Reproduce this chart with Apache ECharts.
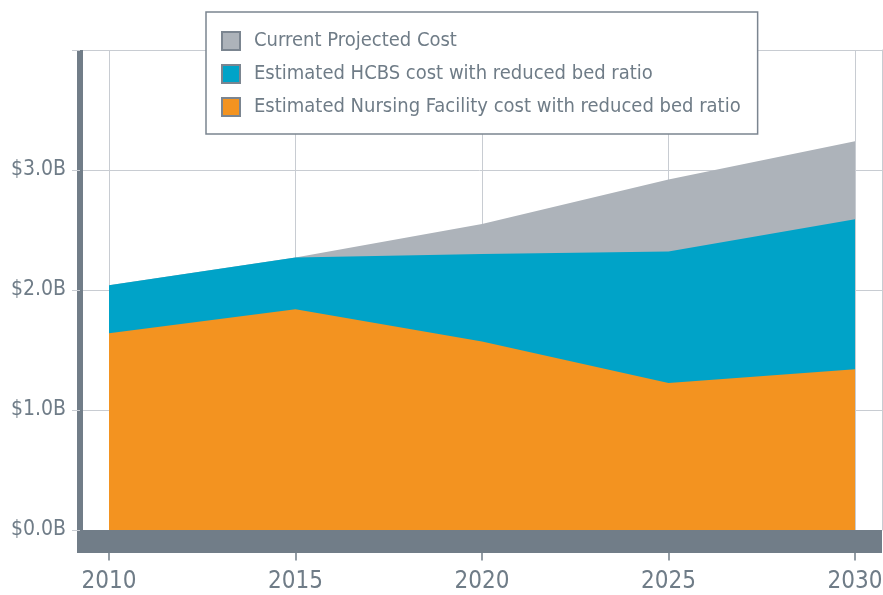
<!DOCTYPE html>
<html>
<head>
<meta charset="utf-8">
<script src="https://cdn.jsdelivr.net/npm/echarts@6/dist/echarts.min.js"></script>
<style>
  html, body { margin: 0; padding: 0; background: #fff; }
  #chart { width: 883px; height: 595px; }
</style>
</head>
<body>
<div id="chart"></div>
<script>
// data (billions of dollars)
var years = [2010, 2015, 2020, 2025, 2030];
var projectedCost = [2.04, 2.27, 2.55, 2.92, 3.24];
var hcbsTotal = [2.04, 2.27, 2.30, 2.32, 2.59];
var nursingCost = [1.64, 1.84, 1.57, 1.225, 1.34];
var seriesNames = [
	"Current Projected Cost",
	"Estimated HCBS cost with reduced bed ratio",
	"Estimated Nursing Facility cost with reduced bed ratio"
];
var colorList = ["#adb3ba", "#00a3c8", "#f39320"];

var axisDark = "#717d88";
var gridGray = "#c8ccd2";
var textGray = "#6f7c87";
var fontName = "'Liberation Sans Narrow', 'DejaVu Sans Condensed', sans-serif";

function pairs(values) {
	var out = [];
	for (var i = 0; i < years.length; i++) {
		out.push([years[i], values[i]]);
	}
	return out;
}

var myChart = echarts.init(document.getElementById("chart"));
var seriesData = [projectedCost, hcbsTotal, nursingCost];
var series = [];
for (var i = 0; i < seriesNames.length; i++) {
	series.push({
		name: seriesNames[i],
		type: "line",
		data: pairs(seriesData[i]),
		symbol: "none",
		lineStyle: { width: 0 },
		itemStyle: { color: colorList[i], borderColor: "#7b8590", borderWidth: 1 },
		areaStyle: { color: colorList[i], opacity: 1 },
		z: 2 + i
	});
}

var option = {
	animation: false,
	textStyle: { fontFamily: fontName },
	grid: { left: 77, right: 1, top: 50, bottom: 65, outerBoundsMode: "none" },
	legend: {
		orient: "vertical",
		left: 206,
		top: 12,
		padding: [19, 17, 17, 15],
		backgroundColor: "#fff",
		borderColor: "#7b8590",
		borderWidth: 1.5,
		borderRadius: 0,
		itemWidth: 18,
		itemHeight: 18,
		itemGap: 13,
		icon: "rect",
		textStyle: { color: textGray, fontSize: 20, lineHeight: 18, fontFamily: fontName, padding: [0, 0, 0, 9] },
		data: seriesNames,
		z: 20
	},
	xAxis: {
		type: "value",
		min: 2009.142,
		max: 2030.724,
		offset: 11.5,
		axisLine: { show: true, onZero: false, lineStyle: { color: axisDark, width: 23, cap: "butt" } },
		axisTick: { show: true, length: 19, customValues: years, lineStyle: { color: axisDark, width: 1.5 } },
		axisLabel: {
			customValues: years,
			color: textGray,
			fontSize: 24,
			margin: 28,
			fontFamily: fontName,
			formatter: function (v) {
				return String(v);
			}
		},
		splitLine: { show: true, lineStyle: { color: gridGray, width: 1 } }
	},
	yAxis: [{
		type: "value",
		min: 0,
		max: 4,
		interval: 1,
		offset: -3,
		axisLine: { show: true, lineStyle: { color: axisDark, width: 6, cap: "butt" } },
		axisTick: { show: true, length: 8, lineStyle: { color: gridGray } },
		axisLabel: {
			color: textGray,
			fontSize: 21,
			margin: 14,
			fontFamily: fontName,
			formatter: function (v) {
				return v >= 4 ? "" : "$" + v.toFixed(1) + "B";
			}
		},
		splitLine: { show: true, lineStyle: { color: gridGray, width: 1 } }
	}, {
		type: "value",
		position: "right",
		min: 0,
		max: 4,
		axisLine: { show: true, lineStyle: { color: gridGray, width: 1 } },
		axisTick: { show: false },
		axisLabel: { show: false },
		splitLine: { show: false }
	}],
	series: series
};

myChart.setOption(option);
</script>
</body>
</html>
